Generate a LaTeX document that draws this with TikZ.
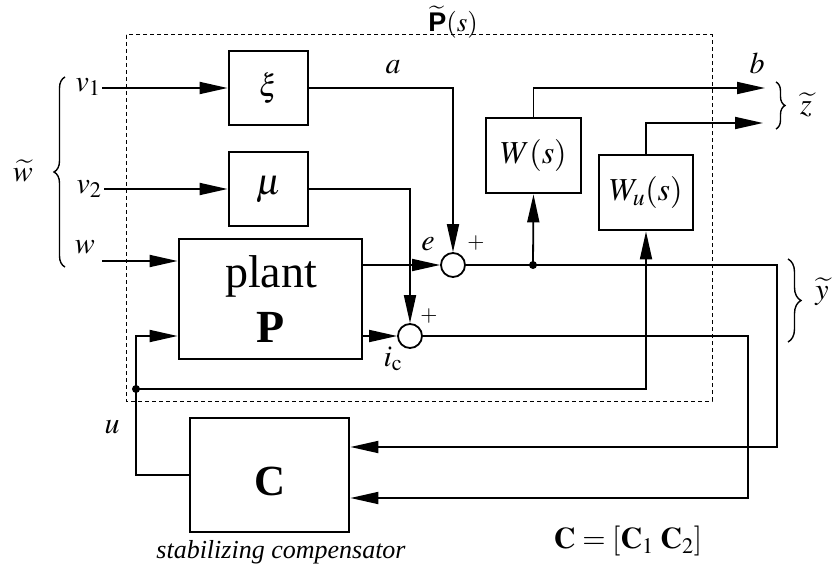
\documentclass[tikz,border=0pt]{standalone}
\usepackage{mathptmx}
\usepackage[no-math]{fontspec}
\setmainfont{Liberation Serif}
\setsansfont{Liberation Sans}
\usetikzlibrary{arrows.meta,decorations.pathreplacing,calc}
\newcommand{\fs}[1]{\fontsize{#1}{#1}\selectfont}
\begin{document}
\begin{tikzpicture}[x=1pt,y=-1pt,
  blk/.style={draw,line width=2.8pt,inner sep=0pt},
  ln/.style={line width=1.8pt},
  arr/.style={ln,-{Triangle[length=28pt,width=12pt]}},
  sumc/.style={draw,circle,line width=1.8pt,minimum size=24pt,inner sep=0pt,fill=white},
  lbl/.style={inner sep=0pt,font=\fs{30}},
  big/.style={inner sep=0pt,anchor=base,scale=2},
  brc/.style={decorate,line width=1.4pt}]
\useasboundingbox (0,0) rectangle (833,575);
% dashed frame
\draw[dash pattern=on 4pt off 3pt,line width=1pt] (126,35) rectangle (712,401);
\node[inner sep=0pt,font=\fs{27},anchor=base] (Pt) at (453,32) {$\widetilde{\mbox{\sffamily\bfseries P}}(s)$};
% blocks
\node[blk,minimum width=79pt,minimum height=74pt] (xi) at (268.5,88) {\fs{31}$\xi$};
\node[blk,minimum width=79pt,minimum height=74pt] (mu) at (268.5,189) {};
\node[inner sep=0pt,scale=1.15] (mulbl) at (268.5,190) {\fs{32}$\mu$};
\node[blk,minimum width=183pt,minimum height=120pt] (plant) at (270.5,299) {};
\node[big] (plantlbl) at (271,287) {\fs{23}plant};
\node[big] (Plbl) at (271,342) {\fs{23}\bfseries P};
\node[blk,minimum width=95pt,minimum height=75pt] (W) at (533.5,155.5) {\fs{32}$W(s)$};
\node[blk,minimum width=94pt,minimum height=75pt] (Wu) at (646,192.5) {\fs{32}$W_u(s)$};
\node[blk,minimum width=159pt,minimum height=114pt] (C) at (269.5,475) {};
\node[big] (Clbl) at (270,495) {\fs{21.5}\bfseries C};
\node[sumc] (s1) at (453,265) {};
\node[sumc] (s2) at (410,336) {};
% coordinates
\coordinate (v1s) at (102,88);
\coordinate (v2s) at (104,189);
\coordinate (ws) at (102,261);
\coordinate (jw) at (533,265);
\coordinate (udot) at (136,389);
\coordinate (k1) at (777,447);
\coordinate (k2) at (748,498);
\coordinate (bz) at (765,88);
\coordinate (bz2) at (763,123);
% connectors
\draw[arr] (v1s) -- (xi.west);
\draw[arr] (v2s) -- (mu.west);
\draw[arr] (ws) -- (ws -| plant.west);
\draw[arr] (plant.east |- s1) -- (s1.west);
\draw[arr] (plant.east |- s2) -- (s2.west);
\draw[arr] (xi.east) -| (s1.north);
\draw[arr] (mu.east) -| (s2.north);
\draw[arr] (s1.east) -| (k1) -- (k1 -| C.east);
\draw[arr] (s2.east) -| (k2) -- (k2 -| C.east);
\draw[arr] (jw) -- (W.south);
\fill (jw) circle (4pt);
\draw[arr] (W.north) |- (bz);
\draw[arr] (Wu.north) |- (bz2);
\draw[arr] (udot) -| (Wu.south);
\draw[arr] (udot) |- (plant.west |- s2);
\draw[ln] (C.west) -| (udot);
\fill (udot) circle (4pt);
% labels
\node[lbl] (v1) at (88,87) {$v_1$};
\node[lbl] (v2) at (89,189) {$v_2$};
\node[lbl] (w) at (85,247) {$w$};
\node[lbl] (wt) at (23,171) {$\widetilde{w}$};
\node[lbl] (a) at (393,67) {$a$};
\node[lbl] (b) at (757,63) {$b$};
\node[lbl] (e) at (428,244) {$e$};
\node[lbl,font=\fs{22}] (p1) at (476,243) {$+$};
\node[lbl,font=\fs{22}] (p2) at (429,316) {$+$};
\node[lbl] (ic) at (393,359) {$i_{\mathrm{c}}$};
\node[lbl] (u) at (112,427) {$u$};
\node[lbl] (zt) at (806,105) {$\widetilde{z}$};
\node[lbl] (yt) at (822,292) {$\widetilde{y}$};
\node[lbl,font=\fs{26}\itshape] (stab) at (281,552) {stabilizing compensator};
\node[lbl,font=\fs{30}] (Ceq) at (628,541) {$\mathbf{C}=[\mathbf{C}_1\;\mathbf{C}_2]$};
% braces
\draw[brc,decoration={brace,amplitude=11pt}] (65,267) -- (65,77);
\draw[brc,decoration={brace,amplitude=9pt}] (776,82) -- (776,129);
\draw[brc,decoration={brace,amplitude=13pt}] (788,259) -- (788,342);
\end{tikzpicture}
\end{document}
